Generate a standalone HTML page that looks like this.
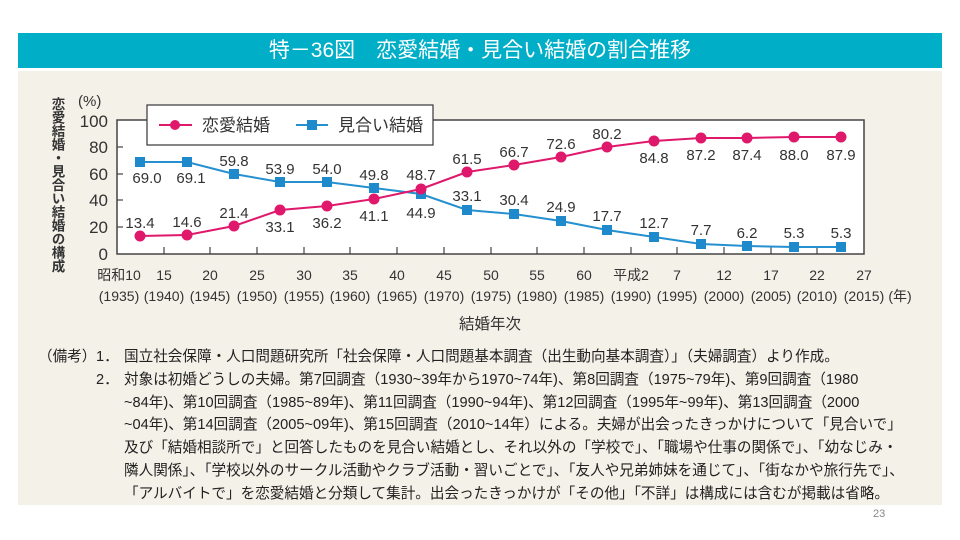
<!DOCTYPE html>
<html><head><meta charset="utf-8"><style>
body{margin:0;width:960px;height:540px;background:#fff;position:relative;overflow:hidden;font-family:"Liberation Sans","Noto Sans CJK JP",sans-serif}
.hd{position:absolute;left:18px;top:33px;width:924px;height:35px;background:#00afc7;color:#fff;font-size:21px;text-align:center;line-height:35px}
.bg{position:absolute;left:18px;top:71px;width:924px;height:434px;background:#f4f1e9}
.notes{position:absolute;left:38px;top:346px;font-size:14.6px;color:#222;line-height:22.8px;width:900px;white-space:nowrap}
.notes .r{position:relative;padding-left:86px}
.notes .n{position:absolute;left:58px}
.notes .b{position:absolute;left:0}
.pg{position:absolute;left:873px;top:508px;font-size:11px;color:#888}
</style></head><body>
<div class="hd">特－36図　恋愛結婚・見合い結婚の割合推移</div>
<div class="bg"></div>
<svg style="position:absolute;left:0;top:0" width="960" height="540" font-family="Liberation Sans, Noto Sans CJK JP, sans-serif">
<rect x="117" y="120" width="747" height="134" fill="#fff" stroke="#444" stroke-width="1.5"/>
<g stroke="#444" stroke-width="1.2">
<line x1="117" y1="147" x2="123" y2="147"/><line x1="117" y1="174" x2="123" y2="174"/><line x1="117" y1="200" x2="123" y2="200"/><line x1="117" y1="227" x2="123" y2="227"/>
<line x1="164" y1="254" x2="164" y2="247"/><line x1="210" y1="254" x2="210" y2="247"/><line x1="257" y1="254" x2="257" y2="247"/><line x1="304" y1="254" x2="304" y2="247"/><line x1="350" y1="254" x2="350" y2="247"/><line x1="397" y1="254" x2="397" y2="247"/><line x1="444" y1="254" x2="444" y2="247"/><line x1="491" y1="254" x2="491" y2="247"/><line x1="537" y1="254" x2="537" y2="247"/><line x1="584" y1="254" x2="584" y2="247"/><line x1="631" y1="254" x2="631" y2="247"/><line x1="677" y1="254" x2="677" y2="247"/><line x1="724" y1="254" x2="724" y2="247"/><line x1="771" y1="254" x2="771" y2="247"/><line x1="817" y1="254" x2="817" y2="247"/>
</g>
<g font-size="17" fill="#333" text-anchor="end">
<text x="108" y="127">100</text><text x="108" y="153">80</text><text x="108" y="180">60</text><text x="108" y="206">40</text><text x="108" y="233">20</text><text x="108" y="260">0</text>
</g>
<text x="78" y="106" font-size="15" fill="#333">(%)</text>
<text x="57" y="97" font-size="13.5" font-weight="bold" fill="#333" style="writing-mode:vertical-rl">恋愛結婚・見合い結婚の構成</text>
<g font-size="14" fill="#333" text-anchor="middle">
<text x="119" y="280">昭和10</text><text x="164" y="280">15</text><text x="210" y="280">20</text><text x="257" y="280">25</text><text x="304" y="280">30</text><text x="350" y="280">35</text><text x="397" y="280">40</text><text x="444" y="280">45</text><text x="491" y="280">50</text><text x="537" y="280">55</text><text x="584" y="280">60</text><text x="631" y="280">平成2</text><text x="677" y="280">7</text><text x="724" y="280">12</text><text x="771" y="280">17</text><text x="817" y="280">22</text><text x="864" y="280">27</text>
<text x="119" y="301">(1935)</text><text x="164" y="301">(1940)</text><text x="210" y="301">(1945)</text><text x="257" y="301">(1950)</text><text x="304" y="301">(1955)</text><text x="350" y="301">(1960)</text><text x="397" y="301">(1965)</text><text x="444" y="301">(1970)</text><text x="491" y="301">(1975)</text><text x="537" y="301">(1980)</text><text x="584" y="301">(1985)</text><text x="631" y="301">(1990)</text><text x="677" y="301">(1995)</text><text x="724" y="301">(2000)</text><text x="771" y="301">(2005)</text><text x="817" y="301">(2010)</text><text x="864" y="301">(2015)</text><text x="900" y="301">(年)</text>
</g>
<text x="490" y="329" font-size="15.5" fill="#333" text-anchor="middle">結婚年次</text>
<polyline fill="none" stroke="#2590d0" stroke-width="2" points="140,162 187,162 234,174 280,182 327,182 374,188 421,194 467,210 514,214 561,221 607,230 654,237 701,244 747,246 794,247 841,247"/>
<g fill="#1e8acb">
<rect x="135" y="157" width="10" height="10"/><rect x="182" y="157" width="10" height="10"/><rect x="229" y="169" width="10" height="10"/><rect x="275" y="177" width="10" height="10"/><rect x="322" y="177" width="10" height="10"/><rect x="369" y="183" width="10" height="10"/><rect x="416" y="189" width="10" height="10"/><rect x="462" y="205" width="10" height="10"/><rect x="509" y="209" width="10" height="10"/><rect x="556" y="216" width="10" height="10"/><rect x="602" y="225" width="10" height="10"/><rect x="649" y="232" width="10" height="10"/><rect x="696" y="239" width="10" height="10"/><rect x="742" y="241" width="10" height="10"/><rect x="789" y="242" width="10" height="10"/><rect x="836" y="242" width="10" height="10"/>
</g>
<polyline fill="none" stroke="#e0186c" stroke-width="2" points="140,236 187,235 234,226 280,210 327,206 374,199 421,189 467,172 514,165 561,157 607,147 654,141 701,138 747,138 794,137 841,137"/>
<g fill="#e0186c">
<circle cx="140" cy="236" r="5.5"/><circle cx="187" cy="235" r="5.5"/><circle cx="234" cy="226" r="5.5"/><circle cx="280" cy="210" r="5.5"/><circle cx="327" cy="206" r="5.5"/><circle cx="374" cy="199" r="5.5"/><circle cx="421" cy="189" r="5.5"/><circle cx="467" cy="172" r="5.5"/><circle cx="514" cy="165" r="5.5"/><circle cx="561" cy="157" r="5.5"/><circle cx="607" cy="147" r="5.5"/><circle cx="654" cy="141" r="5.5"/><circle cx="701" cy="138" r="5.5"/><circle cx="747" cy="138" r="5.5"/><circle cx="794" cy="137" r="5.5"/><circle cx="841" cy="137" r="5.5"/>
</g>
<g font-size="15" fill="#333" text-anchor="middle">
<text x="147" y="183">69.0</text><text x="191" y="183">69.1</text><text x="234" y="166">59.8</text><text x="280" y="174">53.9</text><text x="327" y="174">54.0</text><text x="374" y="180">49.8</text><text x="421" y="218">44.9</text><text x="467" y="201">33.1</text><text x="514" y="205">30.4</text><text x="561" y="212">24.9</text><text x="607" y="221">17.7</text><text x="654" y="228">12.7</text><text x="701" y="235">7.7</text><text x="747" y="238">6.2</text><text x="794" y="238">5.3</text><text x="841" y="238">5.3</text>
<text x="140" y="228">13.4</text><text x="187" y="227">14.6</text><text x="234" y="218">21.4</text><text x="280" y="232">33.1</text><text x="327" y="228">36.2</text><text x="374" y="221">41.1</text><text x="421" y="180">48.7</text><text x="467" y="164">61.5</text><text x="514" y="157">66.7</text><text x="561" y="149">72.6</text><text x="607" y="139">80.2</text><text x="654" y="163">84.8</text><text x="701" y="160">87.2</text><text x="747" y="160">87.4</text><text x="794" y="160">88.0</text><text x="841" y="160">87.9</text>
</g>
<rect x="147" y="105" width="286" height="40" fill="#fff" stroke="#444" stroke-width="1.3"/>
<line x1="159" y1="125" x2="192" y2="125" stroke="#e0186c" stroke-width="2"/><circle cx="175" cy="125" r="5" fill="#e0186c"/>
<text x="202" y="131" font-size="17" fill="#333">恋愛結婚</text>
<line x1="296" y1="125" x2="328" y2="125" stroke="#2590d0" stroke-width="2"/><rect x="307" y="120" width="10" height="10" fill="#1e8acb"/>
<text x="338" y="131" font-size="17" fill="#333">見合い結婚</text>
</svg>
<div class="notes">
<div class="r"><span class="b">（備考）</span><span class="n">1．</span>国立社会保障・人口問題研究所「社会保障・人口問題基本調査（出生動向基本調査）」（夫婦調査）より作成。</div>
<div class="r"><span class="n">2．</span>対象は初婚どうしの夫婦。第7回調査（1930~39年から1970~74年)、第8回調査（1975~79年)、第9回調査（1980<br>~84年)、第10回調査（1985~89年)、第11回調査（1990~94年)、第12回調査（1995年~99年)、第13回調査（2000<br>~04年)、第14回調査（2005~09年)、第15回調査（2010~14年）による。夫婦が出会ったきっかけについて「見合いで」<br>及び「結婚相談所で」と回答したものを見合い結婚とし、それ以外の「学校で」、「職場や仕事の関係で」、「幼なじみ・<br>隣人関係」、「学校以外のサークル活動やクラブ活動・習いごとで」、「友人や兄弟姉妹を通じて」、「街なかや旅行先で」、<br>「アルバイトで」を恋愛結婚と分類して集計。出会ったきっかけが「その他」「不詳」は構成には含むが掲載は省略。</div>
</div>
<div class="pg">23</div>
</body></html>
